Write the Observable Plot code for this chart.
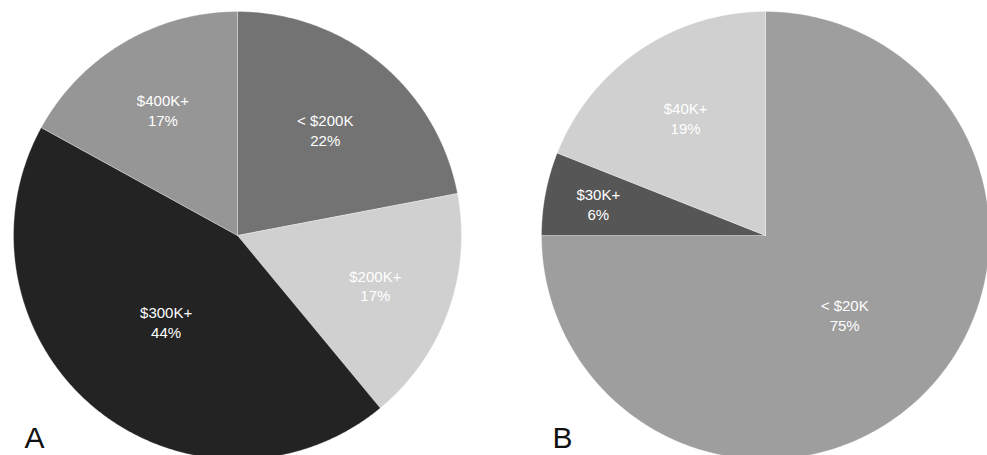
<!DOCTYPE html>
<html>
<head>
<meta charset="utf-8">
<script src="https://cdn.jsdelivr.net/npm/d3@7"></script>
<script src="https://cdn.jsdelivr.net/npm/@observablehq/plot@0.6"></script>
<style>
  html, body { margin: 0; padding: 0; background: #fff; }
  #chart svg { display: block; }
</style>
</head>
<body>
<div id="chart"></div>
<script>
// Pie A: price bands
const pieALabels = ["< $200K", "$200K+", "$300K+", "$400K+"];
const pieAShares = [22, 17, 44, 17];
const pieAColors = ["#737373", "#cfd0cf", "#232323", "#969696"];

// Pie B: income bands
const pieBLabels = ["< $20K", "$30K+", "$40K+"];
const pieBShares = [75, 6, 19];
const pieBColors = ["#9e9e9e", "#565656", "#cfd0cf"];

const panelLabels = ["A", "B"];

// Layout
const W = 987, H = 455;
const R = 224;
const centers = [[237, 235], [765, 235]];

const pies = [
  {panel: panelLabels[0], labels: pieALabels, shares: pieAShares, colors: pieAColors, center: centers[0]},
  {panel: panelLabels[1], labels: pieBLabels, shares: pieBShares, colors: pieBColors, center: centers[1]}
];

// label distance from the centre depends on slice size
const labelRadius = d3.scaleLinear().domain([6, 20, 44]).range([0.76, 0.625, 0.5]).clamp(true);

const vertices = [];
const sliceLabels = [];
const colorDomain = [];
const colorRange = [];

for (const pie of pies) {
  const total = d3.sum(pie.shares);
  const [cx, cy] = pie.center;
  let cum = 0;
  pie.shares.forEach((v, i) => {
    const key = pie.panel + ":" + pie.labels[i];
    colorDomain.push(key);
    colorRange.push(pie.colors[i]);
    const a0 = (cum / total) * 2 * Math.PI;
    const a1 = ((cum + v) / total) * 2 * Math.PI;
    cum += v;
    // clockwise from 12 o'clock
    vertices.push({key, x: cx, y: cy});
    const steps = Math.max(2, Math.ceil((a1 - a0) / (Math.PI / 360)));
    for (let s = 0; s <= steps; s++) {
      const a = a0 + (a1 - a0) * s / steps;
      vertices.push({key, x: cx + R * Math.sin(a), y: cy - R * Math.cos(a)});
    }
    vertices.push({key, x: cx, y: cy});
    const am = (a0 + a1) / 2;
    const r = R * labelRadius(v);
    sliceLabels.push({
      text: pie.labels[i] + "\n" + v + "%",
      x: cx + r * Math.sin(am),
      y: cy - r * Math.cos(am)
    });
  });
}

const panelMarks = pies.map(p => ({text: p.panel, x: p.center[0] - R + 11, y: H - 8}));

const chart = Plot.plot({
  width: W,
  height: H,
  margin: 0,
  style: {background: "#fff", fontFamily: "'Liberation Sans', Arial, Helvetica, sans-serif"},
  x: {domain: [0, W], range: [0, W], axis: null},
  y: {domain: [0, H], range: [0, H], axis: null},
  color: {type: "ordinal", domain: colorDomain, range: colorRange},
  marks: [
    Plot.line(vertices, {
      x: "x", y: "y", z: "key", fill: "key",
      stroke: "#fff", strokeWidth: 0.6, strokeOpacity: 0.5, strokeLinejoin: "miter"
    }),
    Plot.text(sliceLabels, {
      x: "x", y: "y", text: "text",
      fill: "#fff", fontSize: 15, lineHeight: 1.33, lineAnchor: "middle"
    }),
    Plot.text(panelMarks, {
      x: "x", y: "y", text: "text",
      fill: "#111", fontSize: 30, textAnchor: "start", lineAnchor: "bottom"
    })
  ]
});

document.getElementById("chart").appendChild(chart);
</script>
</body>
</html>
